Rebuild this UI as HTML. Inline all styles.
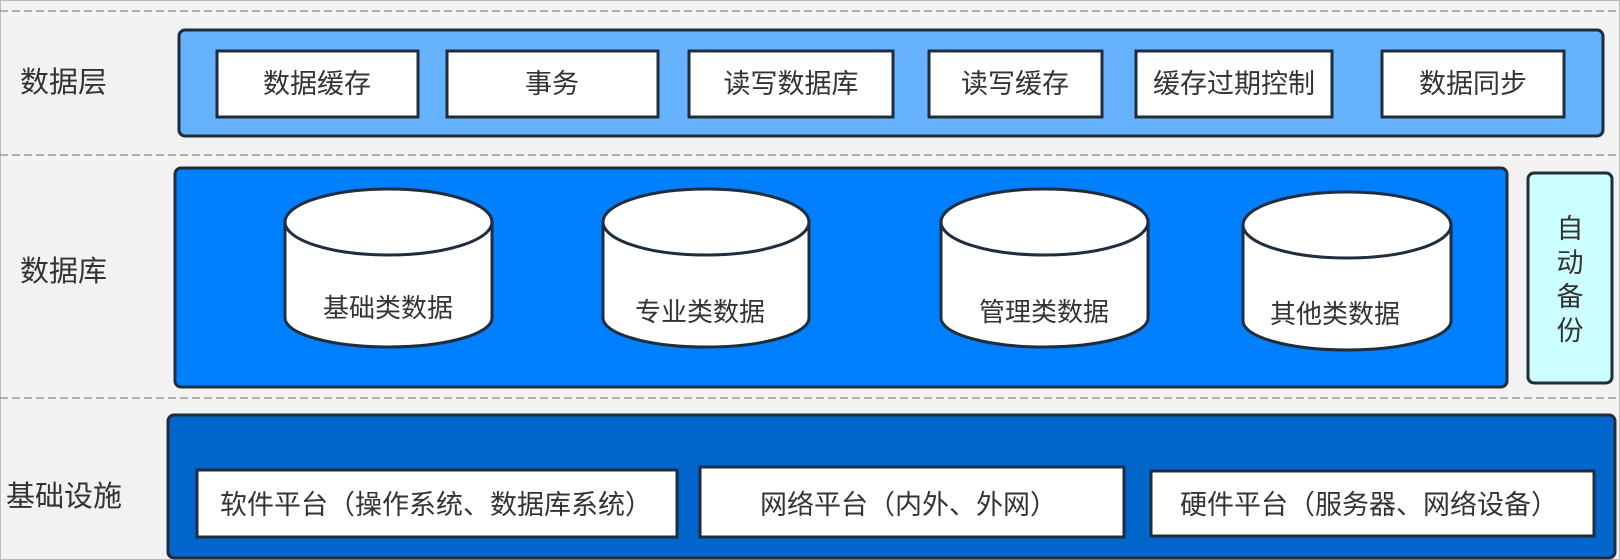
<!DOCTYPE html>
<html><head><meta charset="utf-8"><style>
html,body{margin:0;padding:0;background:#f2f2f2;}
svg{display:block;}
text{font-family:"Liberation Sans","Noto Sans CJK SC",sans-serif;fill:#333;}
</style></head><body>
<svg width="1620" height="560" viewBox="0 0 1620 560" xmlns="http://www.w3.org/2000/svg">
<rect x="0.5" y="0.5" width="1619" height="559" fill="#f2f2f2" stroke="#bbb"/>
<g stroke="#999" stroke-width="1.5" stroke-dasharray="8,4">
<line x1="0" y1="11" x2="1620" y2="11"/>
<line x1="0" y1="155" x2="1620" y2="155"/>
<line x1="0" y1="398" x2="1620" y2="398"/>
</g>
<g font-size="29">
<text x="20" y="92">数据层</text>
<text x="20" y="281">数据库</text>
<text x="6" y="506">基础设施</text>
</g>
<rect x="179" y="30" width="1424" height="106" rx="6" fill="#66b2ff" stroke="#1f2d3d" stroke-width="3"/>
<g fill="#fff" stroke="#1f2d3d" stroke-width="3">
<rect x="217" y="51" width="201" height="66"/>
<rect x="447" y="51" width="211" height="66"/>
<rect x="689" y="51" width="204" height="66"/>
<rect x="929" y="51" width="173" height="66"/>
<rect x="1136" y="51" width="196" height="66"/>
<rect x="1382" y="51" width="182" height="66"/>
</g>
<g font-size="27" text-anchor="middle">
<text x="317" y="93">数据缓存</text>
<text x="552" y="93">事务</text>
<text x="791" y="93">读写数据库</text>
<text x="1015" y="93">读写缓存</text>
<text x="1234" y="93">缓存过期控制</text>
<text x="1473" y="93">数据同步</text>
</g>
<rect x="175" y="168" width="1332" height="219" rx="6" fill="#0080ff" stroke="#1f2d3d" stroke-width="3"/>
<g fill="#fff" stroke="#1f2d3d" stroke-width="3">
<path d="M285,222 A103.5,33 0 0 1 492,222 L492,318 A103.5,29 0 0 1 285,318 Z"/><path d="M285,222 A103.5,33 0 0 0 492,222" fill="none"/>
<path d="M603,222 A103,33 0 0 1 809,222 L809,318 A103,29 0 0 1 603,318 Z"/><path d="M603,222 A103,33 0 0 0 809,222" fill="none"/>
<path d="M941,222 A103.5,33 0 0 1 1148,222 L1148,318 A103.5,29 0 0 1 941,318 Z"/><path d="M941,222 A103.5,33 0 0 0 1148,222" fill="none"/>
<path d="M1243,225 A104,33 0 0 1 1451,225 L1451,321 A104,29 0 0 1 1243,321 Z"/><path d="M1243,225 A104,33 0 0 0 1451,225" fill="none"/>
</g>
<g font-size="26" text-anchor="middle">
<text x="388" y="317">基础类数据</text>
<text x="700" y="321">专业类数据</text>
<text x="1044" y="321">管理类数据</text>
<text x="1335" y="323">其他类数据</text>
</g>
<rect x="1528" y="173" width="84" height="210" rx="6" fill="#ccffff" stroke="#1f2d3d" stroke-width="3"/>
<g font-size="27" text-anchor="middle">
<text x="1570" y="238">自</text>
<text x="1570" y="272">动</text>
<text x="1570" y="306">备</text>
<text x="1570" y="340">份</text>
</g>
<rect x="168" y="415" width="1447" height="143" rx="6" fill="#0066cc" stroke="#1f2d3d" stroke-width="3"/>
<g fill="#fff" stroke="#1f2d3d" stroke-width="3">
<rect x="197" y="470" width="480" height="67"/>
<rect x="700" y="467" width="424" height="70"/>
<rect x="1151" y="471" width="443" height="65"/>
</g>
<g font-size="27">
<text x="220" y="514">软件平台（操作系统、数据库系统）</text>
<text x="760" y="514">网络平台（内外、外网）</text>
<text x="1180" y="514">硬件平台（服务器、网络设备）</text>
</g>
</svg>
</body></html>
